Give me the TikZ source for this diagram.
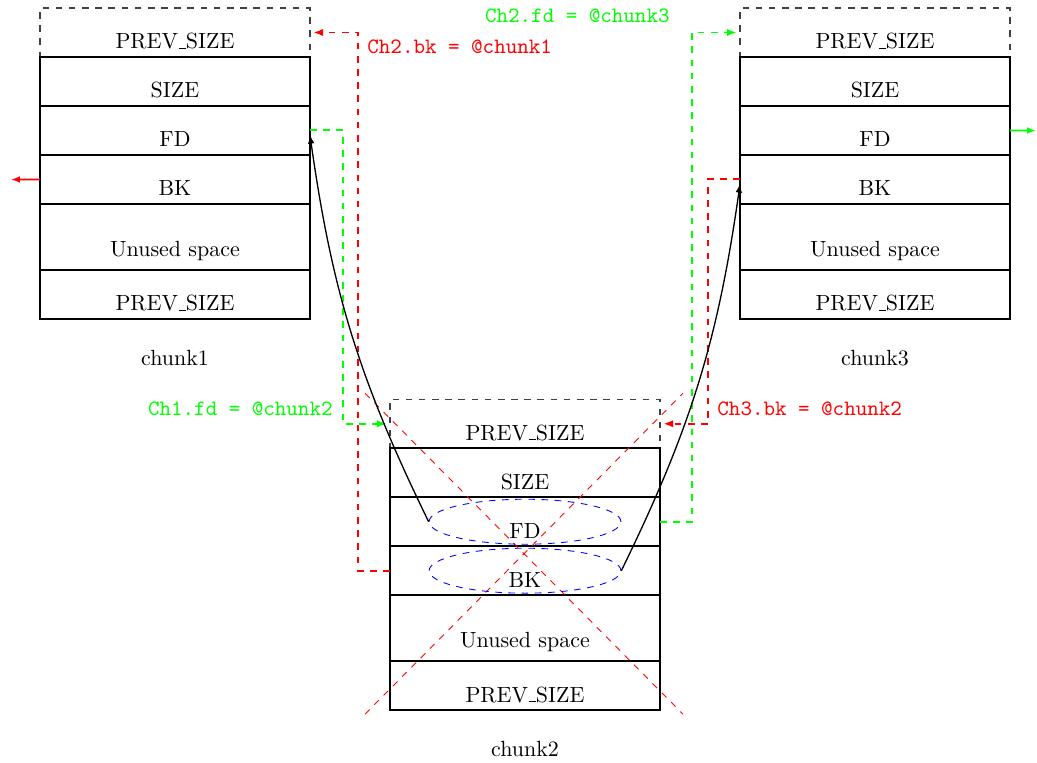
\documentclass[tikz,border=0pt]{standalone}
\usepackage{xcolor}
\usepackage{tikz}
\usetikzlibrary{arrows.meta, positioning, shapes.geometric}

\newcommand{\undsc}{\leavevmode\kern.06em\vbox{\hrule width.3em}}

\begin{document}
\begin{tikzpicture}[
    x=0.016cm, y=-0.016cm,
    cell/.style={rectangle, draw, line width=0.7pt, minimum width=4.32cm, minimum height=0.784cm, text height=0.528cm, text depth=0pt, inner sep=0pt, outer sep=0pt},
    prevcell/.style={cell, draw=black!75, semithick, dashed},
    unusedcell/.style={cell, minimum height=1.056cm, text height=0.624cm},
    ring/.style={ellipse, draw=blue, thin, dashed, minimum width=3.07cm, minimum height=0.72cm, inner sep=0pt},
    xline/.style={red, thin, dashed},
    rptr/.style={red, line width=0.9pt, dashed, -{Latex[length=4.5pt]}, shorten >=1.5pt},
    gptr/.style={green, line width=0.9pt, dashed, -{Latex[length=4.5pt]}, shorten >=1.5pt},
    outptr/.style={thick, -{Latex[length=4pt]}},
    link/.style={semithick, -{Latex[length=4pt]}},
    ptrtext/.style={font=\ttfamily, inner sep=0pt}
]
\useasboundingbox (0,0) rectangle (1037,762);

% the three chunks
\foreach \i/\x/\y in {1/175/32.5, 2/525/423.75, 3/875/32.5} {
  \node[prevcell] (c\i-prev) at (\x,\y) {PREV\undsc SIZE};
  \node[cell, below=0pt of c\i-prev] (c\i-size) {SIZE};
  \node[cell, below=0pt of c\i-size] (c\i-fd) {FD};
  \node[cell, below=0pt of c\i-fd] (c\i-bk) {BK};
  \node[unusedcell, below=0pt of c\i-bk] (c\i-unused) {Unused space};
  \node[cell, below=0pt of c\i-unused] (c\i-prevb) {PREV\undsc SIZE};
  \node[below=0.38cm of c\i-prevb] (c\i-name) {chunk\i};
}

% chunk2 is taken out
\draw[xline] ([shift={(-25,-6)}]c2-prev.north west) -- ([shift={(23,4)}]c2-prevb.south east);
\draw[xline] ([shift={(-25,4)}]c2-prevb.south west) -- ([shift={(23,-6)}]c2-prev.north east);
\node[ring] (fdring) at (c2-fd) {};
\node[ring] (bkring) at (c2-bk) {};

% pointers
\draw[gptr] (c1-fd.east) -- ++(33,0) |- (c2-prev.west);
\draw[rptr] (c2-bk.west) -- ++(-32,0) |- (c1-prev.east);
\draw[gptr] (c2-fd.east) -- ++(32,0) |- (c3-prev.west);
\draw[rptr] (c3-bk.west) -- ++(-32,0) |- (c2-prev.east);

\coordinate (c1out) at (11,179.5);
\coordinate (c3out) at (1036,130.5);
\draw[outptr, red] (c1-bk.west) -- (c1out);
\draw[outptr, green] (c3-fd.east) -- (c3out);

% new links
\draw[link] (fdring.west) to[bend left=9] ([yshift=-2pt]c1-fd.east);
\draw[link] (bkring.east) to[bend right=9] ([yshift=-2pt]c3-bk.west);

% labels
\node[ptrtext, text=green, anchor=base east] (ch1fd) at (333,415) {Ch1.fd = @chunk2};
\node[ptrtext, text=red, anchor=base west] (ch2bk) at (367,53) {Ch2.bk = @chunk1};
\node[ptrtext, text=green, anchor=base east] (ch2fd) at (670,22) {Ch2.fd = @chunk3};
\node[ptrtext, text=red, anchor=base west] (ch3bk) at (717,415) {Ch3.bk = @chunk2};

\end{tikzpicture}
\end{document}
